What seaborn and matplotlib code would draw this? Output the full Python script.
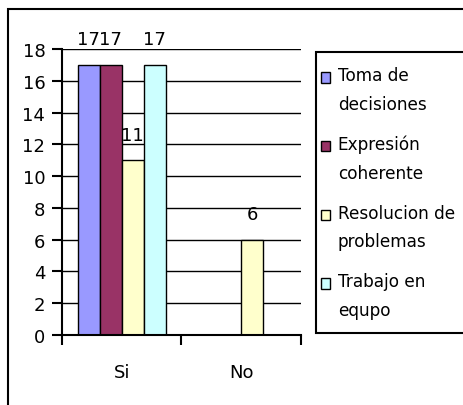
import pandas as pd
import seaborn as sns
from matplotlib import pyplot as plt
from matplotlib.patches import Patch, Rectangle
from matplotlib.legend_handler import HandlerPatch

# datos del grafico
respuestas = ["Si", "No"]
habilidades = ["Toma de decisiones", "Expresión coherente",
               "Resolucion de problemas", "Trabajo en equipo"]
etiquetas_leyenda = ["Toma de\ndecisiones", "Expresión\ncoherente",
                     "Resolucion de\nproblemas", "Trabajo en\nequpo"]
valores_si = [17, 17, 11, 17]
valores_no = [0, 0, 6, 0]
colores = ["#9999FF", "#993366", "#FFFFCC", "#CCFFFF"]

filas = []
for h, vs, vn in zip(habilidades, valores_si, valores_no):
    filas.append({"respuesta": "Si", "habilidad": h, "valor": vs})
    filas.append({"respuesta": "No", "habilidad": h, "valor": vn})
df = pd.DataFrame(filas)

sns.set_style("white")
plt.rcParams["font.family"] = ["DejaVu Sans"]
plt.rcParams["font.size"] = 13
plt.rcParams["text.color"] = "black"
plt.rcParams["xtick.color"] = "black"
plt.rcParams["ytick.color"] = "black"

fig = plt.figure(figsize=(4.64, 4.06), dpi=100)
ax = fig.add_axes([62 / 464, 70 / 406, 239 / 464, 286 / 406])

sns.barplot(data=df, x="respuesta", y="valor", hue="habilidad",
            order=respuestas, hue_order=habilidades, palette=colores,
            edgecolor="black", linewidth=1, width=0.733, saturation=1,
            legend=False, ax=ax)

# etiquetas de valor (sin ceros)
for cont in ax.containers:
    etiq = [f"{v:g}" if v > 0 else "" for v in cont.datavalues]
    ax.bar_label(cont, labels=etiq, padding=12, fontsize=13, color="black")

ax.set_ylim(0, 18)
ax.set_xlim(-0.5, 1.5)
ax.set_yticks(range(0, 19, 2))
ax.set_xlabel("")
ax.set_ylabel("")
ax.grid(False)
for y in range(2, 19, 2):
    ax.axhline(y, color="black", linewidth=1, zorder=0)

for lado in ["top", "right"]:
    ax.spines[lado].set_visible(False)
for lado in ["left", "bottom"]:
    ax.spines[lado].set_color("black")
    ax.spines[lado].set_linewidth(1.5)

ax.tick_params(axis="y", direction="out", length=7, width=1.5, pad=5,
               color="black", labelcolor="black", labelsize=13, left=True)
ax.tick_params(axis="x", which="major", length=0, pad=20, labelsize=13,
               labelcolor="black")
ax.set_xticks([-0.5, 0.5, 1.5], minor=True)
ax.tick_params(axis="x", which="minor", direction="out", length=7,
               width=1.5, color="black", bottom=True)


def cuadro_arriba(legend, orig_handle, xdescent, ydescent, width, height, fontsize):
    # el cuadrito va a la altura de la primera linea del texto, un poco a la izquierda
    return Rectangle((-xdescent - 0.55 * fontsize, -ydescent + 0.78 * fontsize),
                     width, height)


handles = [Patch(facecolor=c, edgecolor="black", linewidth=1) for c in colores]
leg = fig.legend(handles, etiquetas_leyenda, loc="upper left",
                 bbox_to_anchor=(316 / 464, 0, 0.5, 353 / 406), mode="expand",
                 borderaxespad=0, frameon=True, fancybox=False,
                 edgecolor="black", framealpha=1, fontsize=12.2,
                 handlelength=0.55, handleheight=0.55, handletextpad=-0.12,
                 labelspacing=1.3, borderpad=0.85, labelcolor="black",
                 handler_map={Patch: HandlerPatch(patch_func=cuadro_arriba)})
leg.get_frame().set_linewidth(1.5)
for t in leg.get_texts():
    t.set_linespacing(1.75)

# marco exterior
fig.patches.append(Rectangle((8 / 464, -0.1), 1.2, 1.1 - 10 / 406,
                             transform=fig.transFigure, fill=False,
                             edgecolor="black", linewidth=1.5))

fig.savefig("out.png", dpi=100)
